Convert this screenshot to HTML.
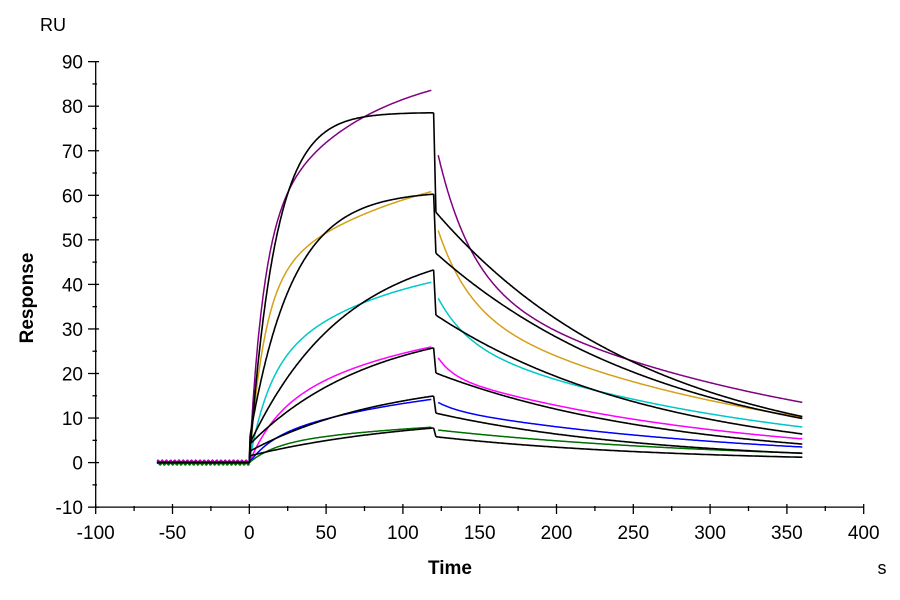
<!DOCTYPE html>
<html><head><meta charset="utf-8"><style>
html,body{margin:0;padding:0;background:#fff}
svg{display:block}
text{font-family:"Liberation Sans",Arial,sans-serif}
</style></head><body>
<svg id="s" width="900" height="600" viewBox="0 0 900 600" xmlns="http://www.w3.org/2000/svg">
<g id="axes" stroke="#000" stroke-width="1.3" fill="none"></g>
<g id="labels" font-size="19" fill="#000"></g>
<g id="curves" fill="none" stroke-width="1.5"></g>
<text x="40" y="31" font-size="18">RU</text>
<text x="450" y="574" font-size="19" font-weight="bold" text-anchor="middle">Time</text>
<text x="882" y="574" font-size="18" text-anchor="middle">s</text>
<text transform="translate(33,298) rotate(-90)" font-size="19" font-weight="bold" text-anchor="middle">Response</text>
</svg>
<script>
var X=function(t){return 249.3+1.536*t}, Y=function(v){return 462.6-4.455*v};
var ax=document.getElementById('axes'), lb=document.getElementById('labels'), cv=document.getElementById('curves');
var NS='http://www.w3.org/2000/svg';
function el(p,tag,a,txt){var e=document.createElementNS(NS,tag);for(var k in a)e.setAttribute(k,a[k]);if(txt!==undefined)e.textContent=txt;p.appendChild(e);return e;}
el(ax,'line',{x1:95.7,y1:Y(90),x2:95.7,y2:Y(-10)});
el(ax,'line',{x1:95.7,y1:Y(-10),x2:X(400),y2:Y(-10)});
for(var v=-10;v<=90;v+=10){el(ax,'line',{x1:88,y1:Y(v),x2:99,y2:Y(v)});el(lb,'text',{x:83,y:Y(v)+7,'text-anchor':'end'},v);
 if(v<90)el(ax,'line',{x1:92.5,y1:Y(v+5),x2:97,y2:Y(v+5)});}
for(var t=-100;t<=400;t+=50){el(ax,'line',{x1:X(t),y1:504,x2:X(t),y2:514});el(lb,'text',{x:X(t),y:539,'text-anchor':'middle'},t);
 if(t<400)el(ax,'line',{x1:X(t+25),y1:506,x2:X(t+25),y2:511});}
function path(f,t0,t1,col,w){var d='';for(var t=t0;t<=t1+1e-9;t+=0.5){d+=(d?'L':'M')+X(t).toFixed(1)+','+Y(f(t)).toFixed(1);}
 el(cv,'path',{d:d,stroke:col,'stroke-width':w||1.5});}
function E(a,k){return function(t){return a*(1-Math.exp(-k*t));}}
function D(a,k){return function(d){return a*Math.exp(-k*d);}}
function S(f,g){return function(t){return f(t)+g(t);}}
var data=[
 ['#800080',S(E(52,0.11),E(38,0.015)),S(D(27.8,0.046),D(41.2,0.0047)),0.3],
 ['#d4a017',S(E(40,0.1),E(30,0.01)),S(D(16.9,0.05),D(35.2,0.00523)),0],
 ['#00c8c8',S(E(20,0.08),E(27,0.012)),S(D(9.3,0.054),D(27.6,0.00523)),-0.2],
 ['#ff00ff',S(E(10,0.06),E(23,0.01)),S(D(3.9,0.1),D(19.6,0.0055)),0.1],
 ['#0000ff',S(E(5,0.07),E(15,0.008)),S(D(1.5,0.08),D(12,0.0052)),-0.1],
 ['#007000',S(E(4,0.06),E(7,0.007)),D(7.3,0.0052),-0.3]
];
data.forEach(function(c){
 path(function(t){return c[3]+0.25*Math.sin(t*2.3)},-60,0,c[0]);
 path(c[1],0,118.5,c[0]);
 path(function(t){return c[2](t-123)},123,360,c[0]);
});
// black fits: [jump, R, k, dissStart, kd]
var fits=[[0,78.6,0.0584,56.2,0.0071],[5,56,0.036,47,0.00653],[4,46,0.016,33.1,0.00687],[4,28,0.0125,20.1,0.0066],[2.5,17,0.011,11.1,0.007],[1.5,9.5,0.009,5.8,0.0066]];
fits.forEach(function(f){
 path(function(){return 0},-60,0,'#000',1.6);
 var a=function(t){return f[0]+f[1]*(1-Math.exp(-f[2]*t))};
 el(cv,'line',{x1:X(0),y1:Y(0),x2:X(0.5),y2:Y(a(0.5)),stroke:'#000','stroke-width':1.6});
 path(a,0.5,120,'#000',1.6);
 el(cv,'line',{x1:X(120),y1:Y(a(120)),x2:X(121.5),y2:Y(f[3]),stroke:'#000','stroke-width':1.6});
 path(function(t){return f[3]*Math.exp(-f[4]*(t-121.5))},121.5,360,'#000',1.6);
});
</script>
</body></html>
